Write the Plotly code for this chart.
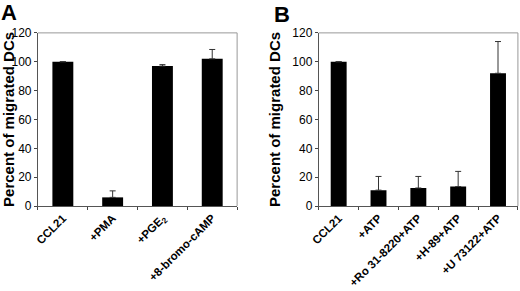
import plotly.graph_objects as go

cats_a = ["CCL21", "+PMA", "+PGE<sub>2</sub>", "+8-bromo-cAMP"]
vals_a = [100, 6, 97, 102]
err_a = [0, 4.5, 1, 6.5]

cats_b = ["CCL21", "+ATP", "+Ro 31-8220+ATP", "+H-89+ATP", "+U 73122+ATP"]
vals_b = [100, 11, 12.5, 13.5, 92]
err_b = [0, 9.5, 8, 10.5, 22]

yticks = [0, 20, 40, 60, 80, 100, 120]

FONT = "Arial, Liberation Sans, sans-serif"

fig = go.Figure()
fig.add_trace(go.Bar(
    x=cats_a, y=vals_a, xaxis="x", yaxis="y",
    marker=dict(color="black", line=dict(width=0)), width=0.42,
    error_y=dict(type="data", array=err_a, arrayminus=[0]*len(err_a), symmetric=False,
                 color="#333", thickness=1, width=3),
    showlegend=False))
fig.add_trace(go.Bar(
    x=cats_b, y=vals_b, xaxis="x2", yaxis="y2",
    marker=dict(color="black", line=dict(width=0)), width=0.4,
    error_y=dict(type="data", array=err_b, arrayminus=[0]*len(err_b), symmetric=False,
                 color="#333", thickness=1, width=3),
    showlegend=False))

def ytitle(standoff):
    return dict(text="<b>Percent of migrated DCs</b>", font=dict(size=15, color="black", family=FONT),
                standoff=standoff)

common_y = dict(range=[0, 120], tickvals=yticks, ticks="outside", ticklen=3, tickcolor="#444",
                showline=True, linecolor="#555", linewidth=1, mirror=False, showgrid=False,
                zeroline=False, tickfont=dict(size=12, color="black", family=FONT),
                tickprefix="<b>", ticksuffix="</b>", automargin=False)
common_x = dict(ticks="outside", ticklen=3, tickcolor="#444", tickson="boundaries",
                showline=True, linecolor="#555", linewidth=1, showgrid=False, zeroline=False,
                tickangle=-45, tickfont=dict(size=11.5, color="black", family=FONT),
                tickprefix="<b>", ticksuffix="</b>", automargin=False)

fig.update_layout(
    template="none",
    width=520, height=291, margin=dict(l=0, r=0, t=0, b=0, autoexpand=False),
    paper_bgcolor="white", plot_bgcolor="white",
    font=dict(family=FONT, color="black"),
    xaxis=dict(domain=[0.073, 0.456], anchor="y", **common_x),
    yaxis=dict(domain=[0.292, 0.887], anchor="x", title=ytitle(1), **common_y),
    xaxis2=dict(domain=[0.613, 0.996], anchor="y2", **common_x),
    yaxis2=dict(domain=[0.292, 0.887], anchor="x2", title=ytitle(8), **common_y),
    annotations=[
        dict(text="<b>A</b>", x=0.0, y=1.0, xref="paper", yref="paper", xanchor="left", yanchor="top",
             xshift=-1, yshift=2,
             showarrow=False, font=dict(size=22, family=FONT, color="black")),
        dict(text="<b>B</b>", x=0.527, y=1.0, xref="paper", yref="paper", xanchor="left", yanchor="top",
             xshift=-2, yshift=0,
             showarrow=False, font=dict(size=22, family=FONT, color="black")),
    ],
    shapes=[
        dict(type="line", xref="x domain", yref="y domain", x0=0, x1=1, y0=1, y1=1, line=dict(color="#999", width=1)),
        dict(type="line", xref="x domain", yref="y domain", x0=1, x1=1, y0=0, y1=1, line=dict(color="#999", width=1)),
        dict(type="line", xref="x2 domain", yref="y2 domain", x0=0, x1=1, y0=1, y1=1, line=dict(color="#999", width=1)),
        dict(type="line", xref="x2 domain", yref="y2 domain", x0=1, x1=1, y0=0, y1=1, line=dict(color="#999", width=1)),
    ],
)

fig.write_html("out.html", config={"displayModeBar": False},
               post_script="document.body.style.margin='0';document.body.style.overflow='hidden';")
